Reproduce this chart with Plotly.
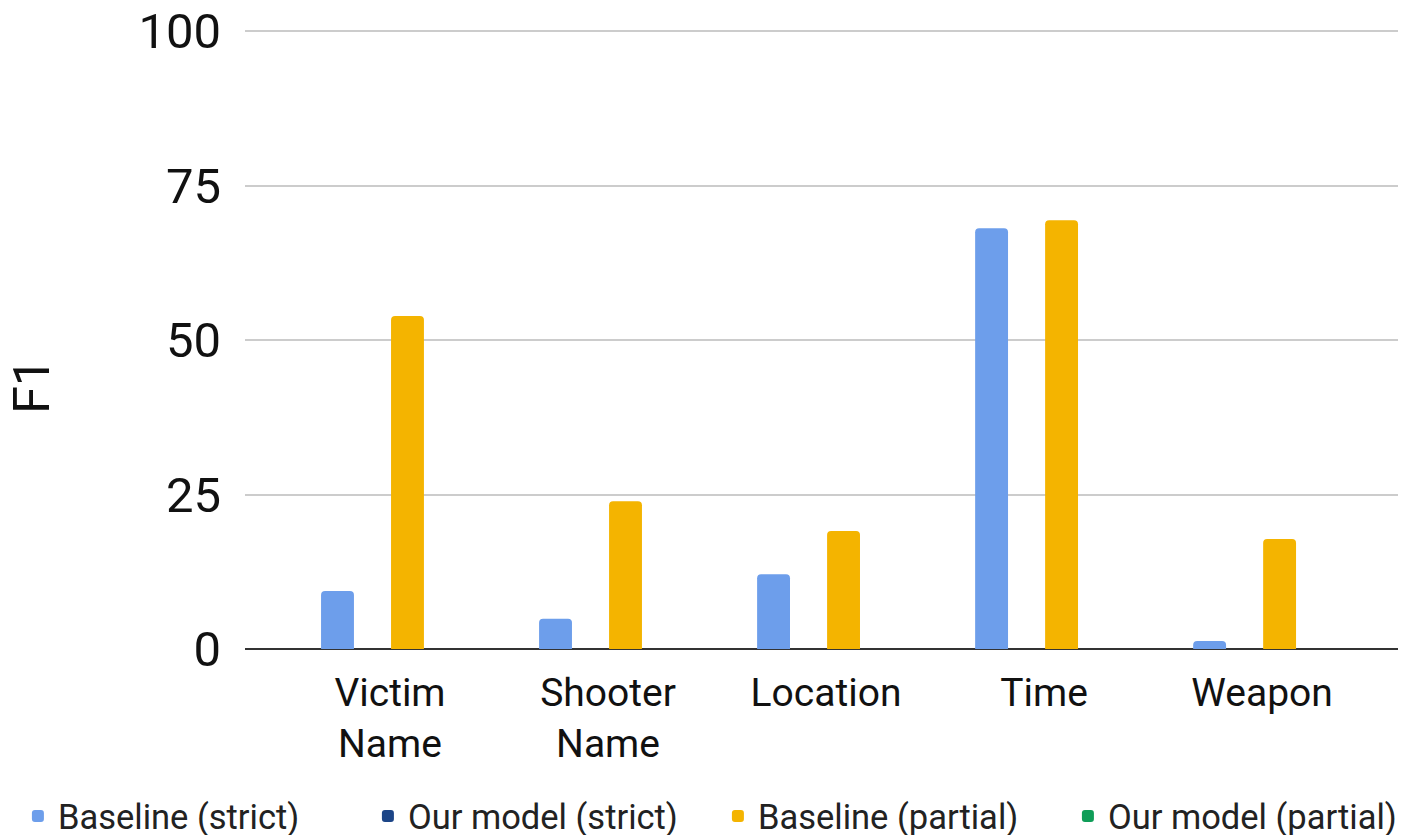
import plotly.graph_objects as go

categories = ["Victim<br>Name", "Shooter<br>Name", "Location", "Time", "Weapon"]
series_names = ["Baseline (strict)", "Our model (strict)", "Baseline (partial)", "Our model (partial)"]
baseline_strict = [9.4, 4.9, 12.1, 68.1, 1.3]
our_model_strict = [0, 0, 0, 0, 0]
baseline_partial = [53.9, 23.9, 19.1, 69.4, 17.8]
our_model_partial = [0, 0, 0, 0, 0]
y_ticks = [0, 25, 50, 75, 100]
colors = ["#6d9eeb", "#1c4587", "#f4b400", "#0f9d58"]
y_title = "F1"

values = [baseline_strict, our_model_strict, baseline_partial, our_model_partial]

fig = go.Figure()
for name, vals, col in zip(series_names, values, colors):
    fig.add_trace(go.Bar(x=categories, y=vals, name=name,
                         marker=dict(color=col, line=dict(width=0), cornerradius=4)))

fig.update_layout(
    width=1398, height=827,
    margin=dict(l=237, r=0, t=20, b=186, autoexpand=False),
    paper_bgcolor="white", plot_bgcolor="white",
    font=dict(family="Roboto", color="#111111"),
    barmode="group", bargap=0.358, bargroupgap=0.06,
    showlegend=True,
    legend=dict(orientation="h", xref="paper", x=-0.1956, xanchor="left",
                yref="paper", y=-0.269, yanchor="middle",
                entrywidth=305, entrywidthmode="pixels",
                font=dict(size=34.5, color="#222222"), itemwidth=30, traceorder="normal"),
    xaxis=dict(range=[-0.665, 4.66], showgrid=False, showline=False, zeroline=False, automargin=False,
               tickfont=dict(size=39, color="#111111"), ticks="", ticklabelstandoff=17),
    yaxis=dict(range=[0, 100.5], tickvals=y_ticks, showgrid=True, gridcolor="#cccccc", gridwidth=2,
               zeroline=True, zerolinecolor="#333333", zerolinewidth=2, automargin=False,
               tickfont=dict(size=49, color="#111111"), ticks="", ticklabelstandoff=23,
               ticklabeloverflow="allow"),
    annotations=[dict(text=y_title, textangle=-90, xref="paper", yref="paper",
                      x=-0.1836, y=0.4235, xanchor="center", yanchor="middle", showarrow=False,
                      font=dict(size=50, color="#111111"))],
)

fig.write_html("out.html")
